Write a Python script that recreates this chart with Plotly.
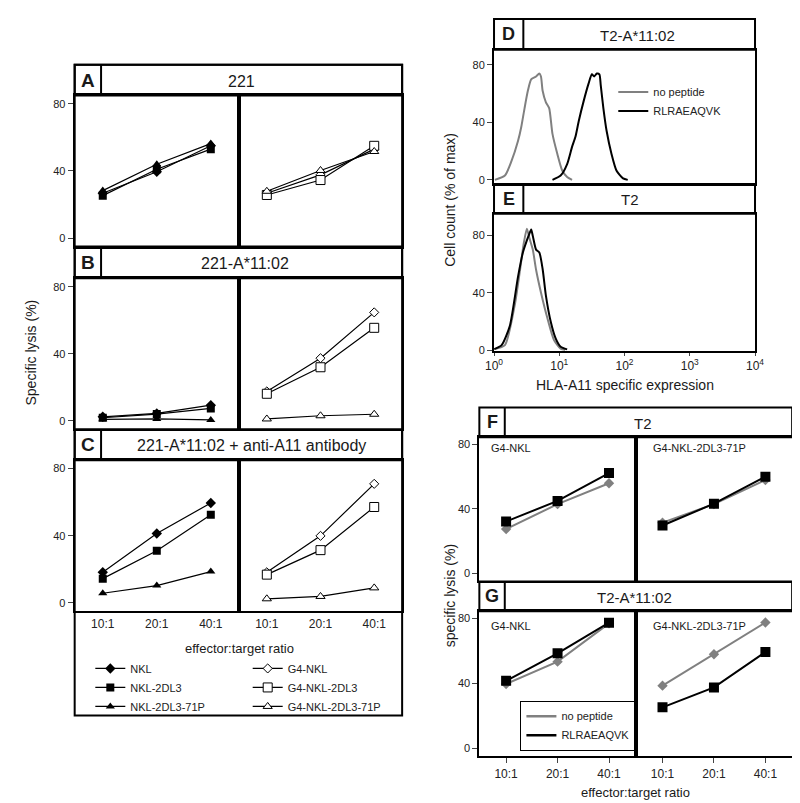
import plotly.graph_objects as go

# effector:target ratios
ratios = ["10:1", "20:1", "40:1"]

# A - 221 targets, specific lysis (%)
a_nkl = [26.7, 39.5, 55.0]
a_nkl_2dl3 = [25.3, 41.0, 53.0]
a_nkl_71p = [28.3, 44.0, 56.3]
a_g4_nkl = [26.7, 37.7, 53.0]
a_g4_2dl3 = [25.7, 34.6, 55.0]
a_g4_71p = [27.9, 40.3, 51.6]

# B - 221-A*11:02
b_nkl = [2.5, 4.5, 9.4]
b_nkl_2dl3 = [1.9, 4.1, 7.5]
b_nkl_71p = [1.0, 1.2, 0.6]
b_g4_nkl = [17.6, 37.4, 64.7]
b_g4_2dl3 = [16.2, 32.0, 55.5]
b_g4_71p = [1.2, 3.1, 4.0]

# C - 221-A*11:02 + anti-A11 antibody
c_nkl = [18.2, 41.3, 59.5]
c_nkl_2dl3 = [14.4, 31.0, 52.5]
c_nkl_71p = [5.7, 10.3, 18.6]
c_g4_nkl = [18.2, 39.9, 70.9]
c_g4_2dl3 = [16.8, 31.4, 57.1]
c_g4_71p = [2.4, 3.8, 8.9]

# D - T2-A*11:02 histograms (HLA-A11 intensity, % of max)
d_nopep_x = [1.03, 1.47, 1.85, 2.33, 2.62, 2.94, 3.30, 3.71, 4.41, 4.94, 5.24,
             5.56, 6.24, 7.0, 7.87, 9.35, 11.1, 13.2, 15.7]
d_nopep_y = [0, 3, 13, 27, 37, 50, 62, 70, 72, 74, 72,
             62, 54, 50, 32, 18, 6.5, 2, 0]
d_pep_x = [7.87, 10.5, 13.2, 15.7, 17.7, 19.9, 23.7, 28.1, 31.6, 34.3, 37.6,
           41.2, 43.2, 47.4, 53.2, 63.2, 75.2, 94.9, 112]
d_pep_y = [0, 3, 11, 23, 30, 41, 55, 67, 73.5, 72, 74,
           73.5, 66, 50, 34, 18, 6.5, 1, 0]

# E - T2 histograms
e_nopep_x = [1.01, 1.47, 2.07, 2.47, 2.87, 3.19, 3.49, 3.93, 4.41, 5.25, 6.6, 8.3, 10.5, 12.3]
e_nopep_y = [0.7, 3.5, 31, 54, 75, 84.6, 78, 70, 56, 40, 22, 7, 1, 0]
e_pep_x = [1.01, 1.31, 1.75, 2.33, 2.77, 3.11, 3.38, 3.71, 3.93, 4.41, 4.95,
           5.56, 6.24, 7.42, 8.83, 10.5, 13.2]
e_pep_y = [0.7, 3.5, 17, 51, 68, 75, 79.5, 84, 79.5, 70, 68,
           56.5, 38, 19.6, 8, 2.3, 0.5]

# F - T2 targets
f_nkl_nopep = [27.5, 43.0, 56.0]
f_nkl_pep = [32.2, 45.0, 62.3]
f_71p_nopep = [31.5, 43.0, 58.0]
f_71p_pep = [29.7, 43.3, 60.0]

# G - T2-A*11:02 targets
g_nkl_nopep = [39.6, 53.4, 77.0]
g_nkl_pep = [41.6, 58.5, 77.4]
g_71p_nopep = [38.6, 58.0, 77.5]
g_71p_pep = [25.2, 37.5, 59.3]


W, H = 800, 803
FONT = "Arial, Liberation Sans, sans-serif"
GRAY = "#808080"


def fx(p):
    return p / W


def fy(p):
    return 1 - p / H


fig = go.Figure()
layout = dict(width=W, height=H, margin=dict(l=0, r=0, t=0, b=0),
              plot_bgcolor="white", paper_bgcolor="white",
              font=dict(family=FONT, color="#222", size=11),
              shapes=[], annotations=[])

line_ax = dict(showline=True, mirror=True, linecolor="black", linewidth=2,
               showgrid=False, zeroline=False)


def add_axes(n, x0, x1, y0, y1, yrange, showy, xkind="cat", showx=False, xticks=""):
    xa = dict(line_ax, domain=[fx(x0), fx(x1)], anchor="y%d" % n)
    if xkind == "cat":
        xa.update(type="category", range=[-0.52, 2.52], categoryorder="array",
                  categoryarray=ratios, showticklabels=showx, ticks=xticks,
                  ticklen=5, tickfont=dict(size=12))
    else:
        xa.update(type="log", range=[0, 4], showticklabels=showx,
                  tickvals=[1, 10, 100, 1000, 10000],
                  ticktext=["10<sup>%d</sup>" % i for i in range(5)],
                  ticks="outside" if showx else "", ticklen=3, tickfont=dict(size=12))
    ya = dict(line_ax, domain=[fy(y1), fy(y0)], anchor="x%d" % n, range=yrange,
              tickvals=[0, 40, 80], showticklabels=showy,
              ticks="outside" if showy else "", ticklen=5, tickfont=dict(size=11))
    sfx = "" if n == 1 else str(n)
    layout["xaxis" + sfx] = xa
    layout["yaxis" + sfx] = ya


yr = [-5, 85]
add_axes(1, 59, 227, 88, 240, yr, True)
add_axes(2, 227, 394, 88, 240, yr, False)
add_axes(3, 59, 227, 272, 424, yr, True)
add_axes(4, 227, 394, 272, 424, yr, False)
add_axes(5, 59, 227, 455, 607, yr, True, showx=True)
add_axes(6, 227, 394, 455, 607, yr, False, showx=True)
add_axes(7, 488, 755, 42, 177, [-2.8, 90.6], True, xkind="log")
add_axes(8, 488, 755, 207, 345, [-0.5, 95], True, xkind="log", showx=True)
yr2 = [-5, 84.5]
add_axes(9, 473, 633, 432, 577, yr2, True)
add_axes(10, 633, 793, 432, 577, yr2, False)
add_axes(11, 473, 633, 607, 753, yr2, True, showx=True, xticks="outside")
add_axes(12, 633, 793, 607, 753, yr2, False, showx=True, xticks="outside")

# lysis panels A-C
series_left = [("NKL", "diamond", 8), ("NKL-2DL3", "square", 8), ("NKL-2DL3-71P", "triangle-up", 8)]
series_right = [("G4-NKL", "diamond", 7), ("G4-NKL-2DL3", "square", 9), ("G4-NKL-2DL3-71P", "triangle-up", 8)]
panels = [
    (1, [a_nkl, a_nkl_2dl3, a_nkl_71p], 2, [a_g4_nkl, a_g4_2dl3, a_g4_71p]),
    (3, [b_nkl, b_nkl_2dl3, b_nkl_71p], 4, [b_g4_nkl, b_g4_2dl3, b_g4_71p]),
    (5, [c_nkl, c_nkl_2dl3, c_nkl_71p], 6, [c_g4_nkl, c_g4_2dl3, c_g4_71p]),
]
for nl, vals_l, nr, vals_r in panels:
    for (name, sym, sz), vals in zip(series_left, vals_l):
        fig.add_trace(go.Scatter(
            x=ratios, y=vals, mode="lines+markers", name=name,
            xaxis="x%d" % nl, yaxis="y%d" % nl,
            line=dict(color="black", width=1.2),
            marker=dict(symbol=sym, size=sz, color="black"),
            showlegend=(nl == 5), legend="legend"))
    for (name, sym, sz), vals in zip(series_right, vals_r):
        fig.add_trace(go.Scatter(
            x=ratios, y=vals, mode="lines+markers", name=name,
            xaxis="x%d" % nr, yaxis="y%d" % nr,
            line=dict(color="black", width=1.2),
            marker=dict(symbol=sym, size=sz, color="white",
                        line=dict(color="black", width=1)),
            showlegend=(nr == 6), legend="legend2"))

# histograms D, E
for n, xs, ys, col, name, show in [
        (7, d_nopep_x, d_nopep_y, GRAY, "no peptide", True),
        (7, d_pep_x, d_pep_y, "black", "RLRAEAQVK", True),
        (8, e_nopep_x, e_nopep_y, GRAY, "no peptide", False),
        (8, e_pep_x, e_pep_y, "black", "RLRAEAQVK", False)]:
    fig.add_trace(go.Scatter(x=xs, y=ys, mode="lines", name=name,
                             xaxis="x%d" % n, yaxis="y%d" % n,
                             line=dict(color=col, width=2, shape="spline", smoothing=0.6),
                             showlegend=show, legend="legend3"))

# F, G
for n, nopep, pep in [(9, f_nkl_nopep, f_nkl_pep), (10, f_71p_nopep, f_71p_pep),
                      (11, g_nkl_nopep, g_nkl_pep), (12, g_71p_nopep, g_71p_pep)]:
    fig.add_trace(go.Scatter(x=ratios, y=nopep, mode="lines+markers", name="no peptide",
                             xaxis="x%d" % n, yaxis="y%d" % n, showlegend=False,
                             line=dict(color=GRAY, width=2),
                             marker=dict(symbol="diamond", size=8, color=GRAY)))
    fig.add_trace(go.Scatter(x=ratios, y=pep, mode="lines+markers", name="RLRAEAQVK",
                             xaxis="x%d" % n, yaxis="y%d" % n, showlegend=False,
                             line=dict(color="black", width=2),
                             marker=dict(symbol="square", size=10, color="black")))
# legend-only entries for G
for name, col in [("no peptide", GRAY), ("RLRAEAQVK", "black")]:
    fig.add_trace(go.Scatter(x=[None], y=[None], mode="lines", name=name,
                             xaxis="x11", yaxis="y11", line=dict(color=col, width=2.5),
                             legend="legend4"))

# header boxes
def rect(x0, y0, x1, y1, w=2):
    layout["shapes"].append(dict(type="rect", xref="paper", yref="paper",
                                 x0=fx(x0), x1=fx(x1), y0=fy(y1), y1=fy(y0),
                                 line=dict(color="black", width=w), layer="above"))


def vline(x, y0, y1):
    layout["shapes"].append(dict(type="line", xref="paper", yref="paper",
                                 x0=fx(x), x1=fx(x), y0=fy(y1), y1=fy(y0),
                                 line=dict(color="black", width=2), layer="above"))


def text(s, x, y, size, bold=False, angle=0, xanchor="center"):
    layout["annotations"].append(dict(
        text="<b>%s</b>" % s if bold else s, x=fx(x), y=fy(y), xref="paper", yref="paper",
        showarrow=False, xanchor=xanchor, yanchor="middle", textangle=angle,
        font=dict(size=size, family=FONT, color="#1a1a1a")))


rect(59, 57, 394, 712)
for y0, y1, lab, title, tx in [(57, 88, "A", "221", 230), (240, 272, "B", "221-A*11:02", 233),
                               (424, 455, "C", "221-A*11:02 + anti-A11 antibody", 240)]:
    rect(59, y0, 394, y1)
    vline(86, y0, y1)
    text(lab, 72.5, (y0 + y1) / 2, 19, bold=True)
    text(title, tx, (y0 + y1) / 2 + 1, 16)

for y0, y1, lab, title, tx in [(11, 42, "D", "T2-A*11:02", 635), (177, 207, "E", "T2", 627)]:
    rect(488, y0, 755, y1)
    vline(518, y0, y1)
    text(lab, 503, (y0 + y1) / 2, 18, bold=True)
    text(title, tx, (y0 + y1) / 2 + 1, 15)

for y0, y1, lab, title, tx in [(402, 432, "F", "T2", 640), (577, 607, "G", "T2-A*11:02", 632)]:
    rect(473, y0, 793, y1)
    vline(499, y0, y1)
    text(lab, 486, (y0 + y1) / 2, 18, bold=True)
    text(title, tx, (y0 + y1) / 2 + 1, 15)

text("Specific lysis (%)", 14, 347, 14, angle=-90)
text("effector:target ratio", 228, 645, 13)
text("Cell count (% of max)", 443, 193, 14, angle=-90)
text("HLA-A11 specific expression", 622, 379, 14)
text("specific lysis (%)", 443, 592, 14, angle=-90)
text("effector:target ratio", 633, 789, 13)
text("G4-NKL", 483, 443, 11, xanchor="left")
text("G4-NKL-2DL3-71P", 649, 443, 11, xanchor="left")
text("G4-NKL", 483, 622, 11, xanchor="left")
text("G4-NKL-2DL3-71P", 649, 622, 11, xanchor="left")

leg = dict(font=dict(size=11, family=FONT), bgcolor="rgba(0,0,0,0)",
           xanchor="left", yanchor="top", tracegroupgap=0, itemclick=False)
layout["legend"] = dict(leg, x=fx(75), y=fy(650))
layout["legend2"] = dict(leg, x=fx(236), y=fy(650))
layout["legend3"] = dict(leg, x=fx(610), y=fy(70))
layout["legend4"] = dict(leg, x=fx(515), y=fy(697), bordercolor="black", borderwidth=1,
                         bgcolor="white")

fig.update_layout(**layout)
fig.write_html("out.html")
